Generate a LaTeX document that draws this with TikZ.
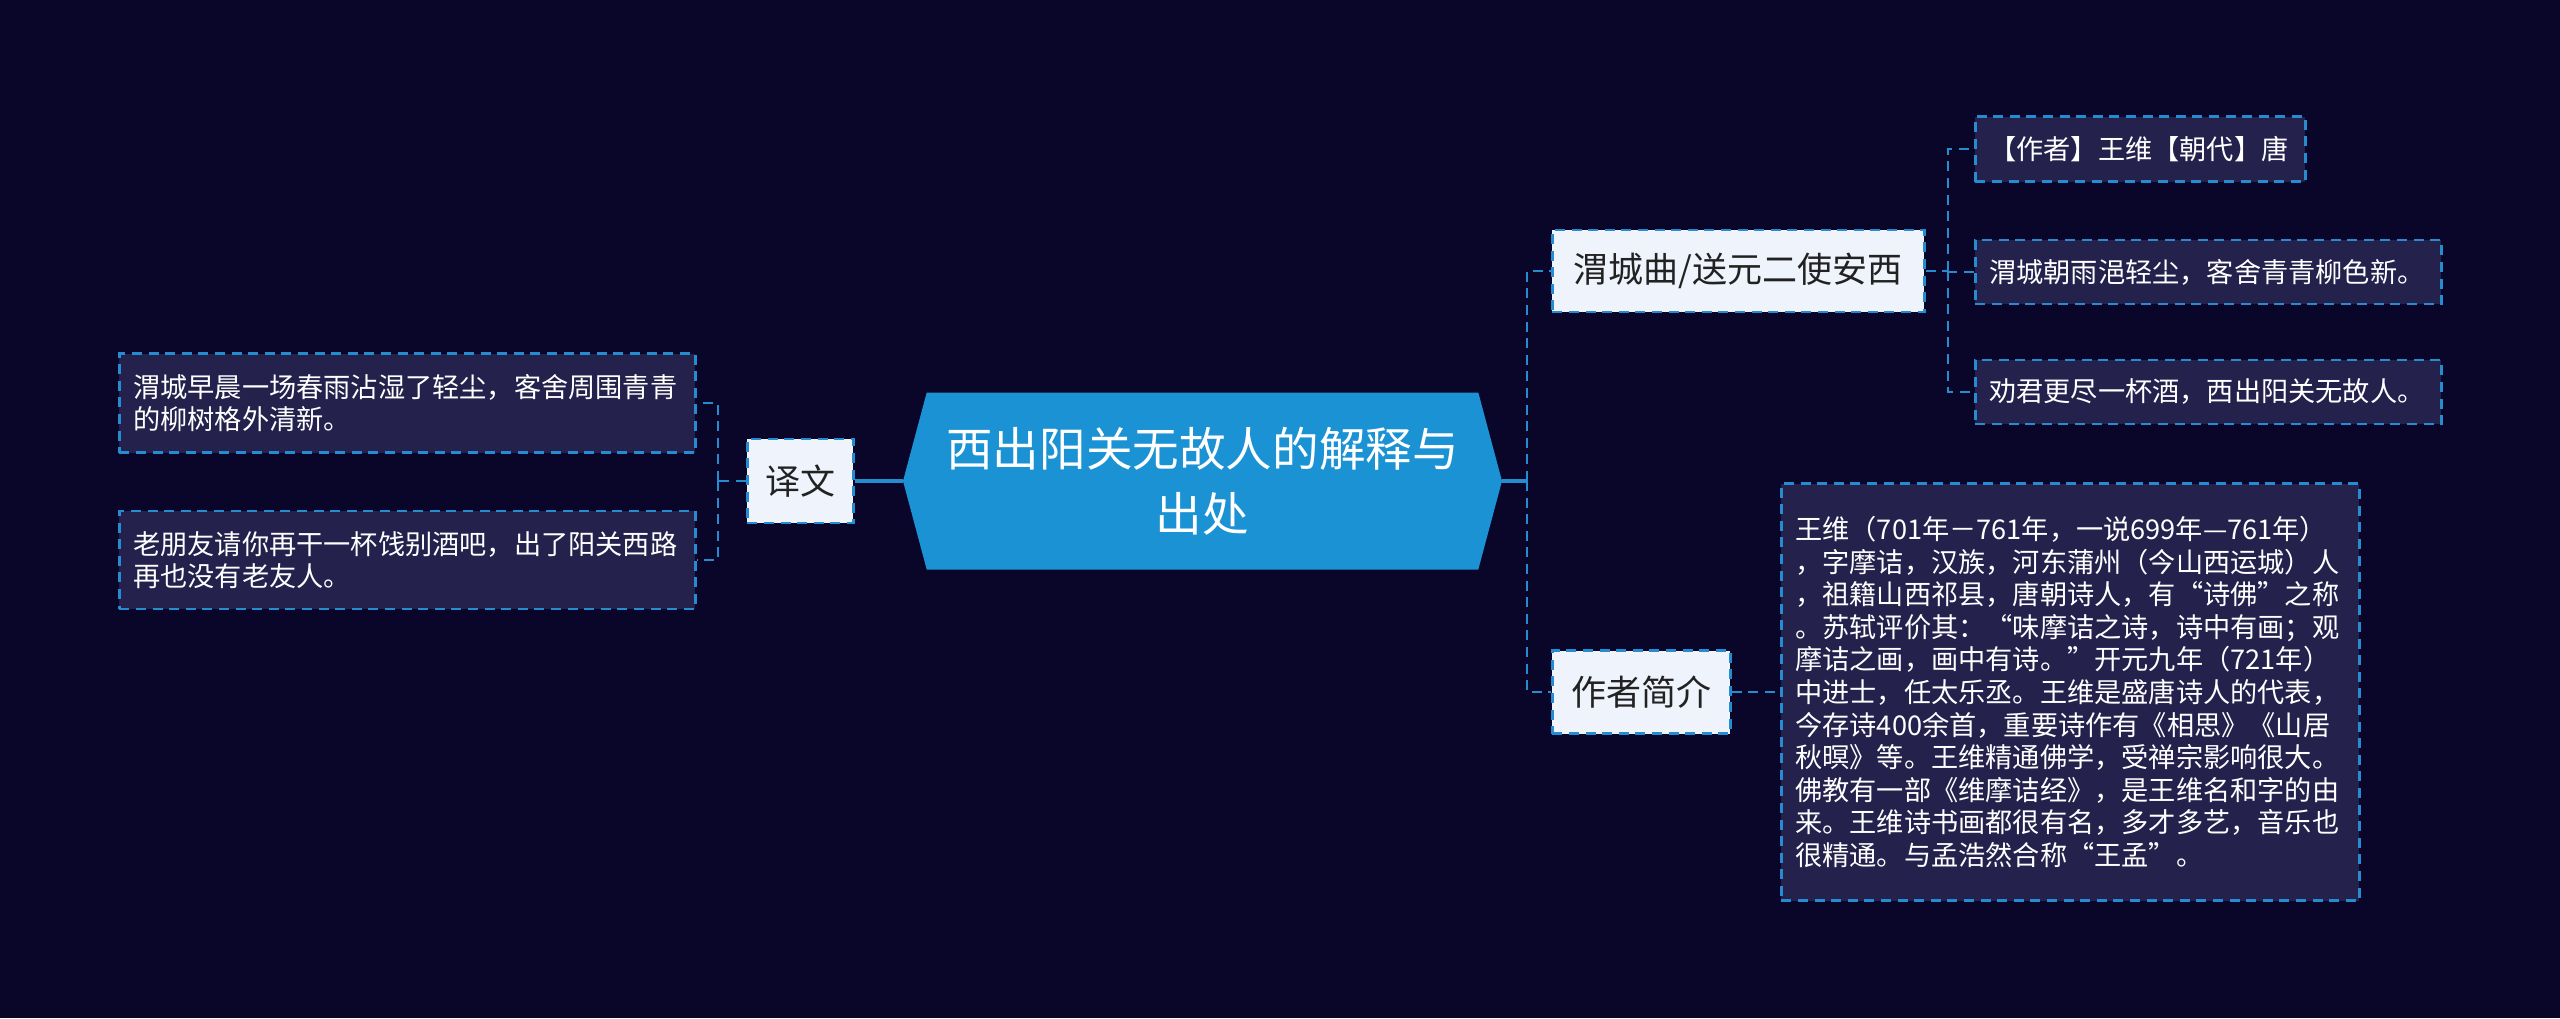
\documentclass[tikz,border=0pt]{standalone}
\usepackage{fontspec}
\newfontfamily\cjk{Noto Sans CJK SC}
\usetikzlibrary{shapes.symbols}
\definecolor{nightbg}{RGB}{10,6,42}
\definecolor{leaffill}{RGB}{36,33,76}
\definecolor{edgeblue}{RGB}{38,140,208}
\definecolor{hexblue}{RGB}{27,146,212}
\definecolor{palefill}{RGB}{238,243,252}
\definecolor{inkdark}{RGB}{34,34,34}

\begin{document}
\begin{tikzpicture}[x=0.5pt,y=-0.5pt,
  leaf/.style={draw=edgeblue,fill=leaffill,line width=1.3pt,dash pattern=on 5pt off 3.3pt,text=white,align=left,anchor=west,inner xsep=7pt,inner ysep=0pt,font=\cjk\fontsize{13.6}{16.3}\selectfont},
  mid/.style={draw=edgeblue,fill=palefill,line width=1.3pt,dash pattern=on 5pt off 3.3pt,text=inkdark,anchor=west,inner sep=0pt,font=\cjk\fontsize{17.5}{21}\selectfont},
  link/.style={edgeblue,line width=1.4pt,dash pattern=on 5pt off 3.3pt},
  stem/.style={edgeblue,line width=1.7pt}]
\fill[nightbg] (0,0) rectangle (2560,1018);
% centre
\node[signal,signal to=west and east,signal pointer angle=150,fill=hexblue,minimum width=299.5pt,minimum height=88.5pt,inner sep=0pt,text=white,align=center,font=\cjk\fontsize{23.3}{32.6}\selectfont] (main) at (1202.5,481) {西出阳关无故人的解释与\\出处};
% left: translation
\node[mid,minimum width=53pt,minimum height=42pt] (yiwen) at (746,481) {译文};
\node[leaf,text width=274pt,minimum height=49.5pt] (trA) at (118,403) {渭城早晨一场春雨沾湿了轻尘，客舍周围青青\\的柳树格外清新。};
\node[leaf,text width=274pt,minimum height=49pt] (trB) at (118,560) {老朋友请你再干一杯饯别酒吧，出了阳关西路\\再也没有老友人。};
% right: poem and author
\node[mid,minimum width=186pt,minimum height=41pt] (poem) at (1551,271) {渭城曲/送元二使安西};
\node[leaf,text width=151pt,minimum height=32.5pt] (au) at (1974,149) {【作者】王维【朝代】唐};
\node[leaf,text width=219pt,minimum height=32pt] (lineA) at (1974,272) {渭城朝雨浥轻尘，客舍青青柳色新。};
\node[leaf,text width=219pt,minimum height=32pt] (lineB) at (1974,392) {劝君更尽一杯酒，西出阳关无故人。};
\node[mid,minimum width=89pt,minimum height=41.5pt] (bio) at (1551,692) {作者简介};
\node[leaf,text width=275pt,minimum height=208.5pt] (bioText) at (1780,692) {王维（701年－761年，一说699年—761年）\\，字摩诘，汉族，河东蒲州（今山西运城）人\\，祖籍山西祁县，唐朝诗人，有“诗佛”之称\\。苏轼评价其：“味摩诘之诗，诗中有画；观\\摩诘之画，画中有诗。”开元九年（721年）\\中进士，任太乐丞。王维是盛唐诗人的代表，\\今存诗400余首，重要诗作有《相思》《山居\\秋暝》等。王维精通佛学，受禅宗影响很大。\\佛教有一部《维摩诘经》，是王维名和字的由\\来。王维诗书画都很有名，多才多艺，音乐也\\很精通。与孟浩然合称“王孟”。};
% connectors
\coordinate (jl) at (718,481);
\coordinate (jr) at (1527,481);
\coordinate (js) at (1948,271);
\draw[stem] (main.west) -- (yiwen.east);
\draw[link] (yiwen.west) -- (jl);
\draw[link] (jl) |- (trA.east);
\draw[link] (jl) |- (trB.east);
\draw[stem] (main.east) -- (jr);
\draw[link] (jr) |- (poem.west);
\draw[link] (jr) |- (bio.west);
\draw[link] (poem.east) -- (js);
\draw[link] (js) |- (au.west);
\draw[link] (js) |- (lineA.west);
\draw[link] (js) |- (lineB.west);
\draw[link] (bio.east) -- (bioText.west);
\end{tikzpicture}
\end{document}
